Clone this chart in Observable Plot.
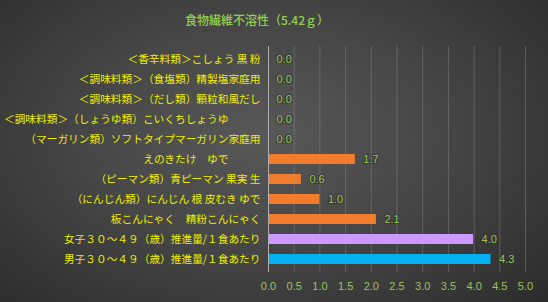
<!DOCTYPE html>
<html>
<head>
<meta charset="utf-8">
<script src="https://cdn.jsdelivr.net/npm/d3@7"></script>
<script src="https://cdn.jsdelivr.net/npm/@observablehq/plot@0.6"></script>
<style>
  html, body { margin: 0; padding: 0; }
  #wrap {
    position: relative; width: 548px; height: 302px; overflow: hidden;
    background: radial-gradient(ellipse 70% 80% at 48% 45%, #585858 0%, #474747 45%, #2c2c2c 100%);
    font-family: "Noto Sans CJK JP", sans-serif;
  }
  #title {
    position: absolute; left: 0; top: 11px; width: 514px; text-align: center;
    font-size: 12px; line-height: 18px; color: #92d050; font-weight: 500;
  }
  #chart { position: absolute; left: 0; top: 0; }
  #chart svg { background: transparent; }
</style>
</head>
<body>
<div id="wrap">
  <div id="title">食物繊維不溶性（5.42ｇ）</div>
  <div id="chart"></div>
</div>
<script>
const categories = [
  "＜香辛料類＞こしょう 黒 粉",
  "＜調味料類＞（食塩類）精製塩家庭用",
  "＜調味料類＞（だし類）顆粒和風だし",
  "＜調味料類＞（しょうゆ類）こいくちしょうゆ　　　",
  "（マーガリン類）ソフトタイプマーガリン家庭用",
  "えのきたけ　ゆで　　　",
  "（ピーマン類）青ピーマン 果実 生",
  "（にんじん類）にんじん 根 皮むき ゆで",
  "板こんにゃく　精粉こんにゃく",
  "女子３０～４９（歳）推進量/１食あたり",
  "男子３０～４９（歳）推進量/１食あたり"
];
const values = [0, 0, 0, 0, 0, 1.69, 0.64, 1.0, 2.1, 3.99, 4.33];
const groups = ["食品","食品","食品","食品","食品","食品","食品","食品","食品","女子","男子"];
const xTicks = [0, 0.5, 1, 1.5, 2, 2.5, 3, 3.5, 4, 4.5, 5];

const data = categories.map((c, i) => ({category: c, value: values[i], group: groups[i]}));

const chart = Plot.plot({
  width: 548,
  height: 302,
  marginTop: 46,
  marginBottom: 30,
  marginLeft: 268,
  marginRight: 23,
  style: {background: "transparent", overflow: "visible"},
  x: {domain: [0, 5], ticks: xTicks, label: null},
  y: {domain: categories, paddingInner: 0.5, paddingOuter: 0.27, label: null},
  color: {domain: ["食品", "女子", "男子"], range: ["#f07c2c", "#cc99ff", "#00b0f0"]},
  marks: [
    Plot.gridX(xTicks.slice(1), {stroke: "#8a8a8a", strokeOpacity: 0.45, strokeWidth: 1}),
    Plot.axisX({
      ticks: xTicks, tickSize: 0, tickPadding: 10, tickFormat: d3.format(".1f"),
      fill: "#9dc25a", fontSize: 11, fontFamily: "Liberation Sans, sans-serif", label: null
    }),
    Plot.axisY({
      tickSize: 0, tickPadding: 8, fill: "#eeee00", fontSize: 10.7,
      fontFamily: "Noto Sans CJK JP, sans-serif", label: null
    }),
    Plot.barX(data, {
      y: "category", x: "value", fill: "group",
      style: {filter: "drop-shadow(1px 1px 1px rgba(0,0,0,0.45))"}
    }),
    Plot.ruleX([0], {stroke: "#b0b0b0", strokeWidth: 1}),
    Plot.text(data, {
      y: "category", x: "value", text: d => d3.format(".1f")(d.value),
      dx: 8, textAnchor: "start", fill: "#9dc25a", fontSize: 11,
      fontFamily: "Liberation Sans, sans-serif",
      stroke: "#2e2e2e", strokeOpacity: 0.5, strokeWidth: 2.5
    })
  ]
});
document.getElementById("chart").appendChild(chart);
</script>
</body>
</html>
